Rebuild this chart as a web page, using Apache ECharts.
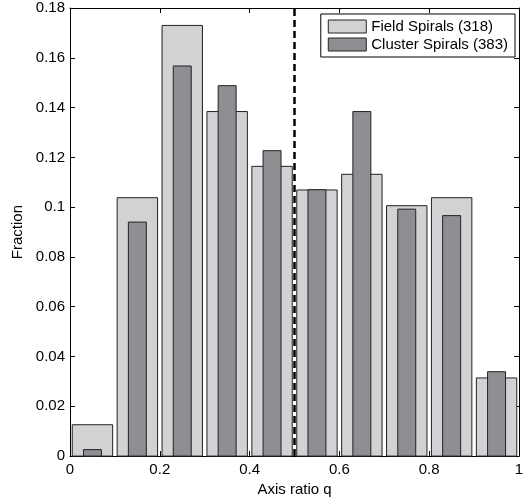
<!DOCTYPE html>
<html>
<head>
<meta charset="utf-8">
<script src="https://cdn.jsdelivr.net/npm/echarts@6/dist/echarts.min.js"></script>
<style>
html,body{margin:0;padding:0;background:#fff;}
#chart{width:527px;height:502px;}
</style>
</head>
<body>
<div id="chart"></div>
<script>
const binCenters = [0.05, 0.15, 0.25, 0.35, 0.45, 0.55, 0.65, 0.75, 0.85, 0.95];
const fieldFrac = [0.0126, 0.1038, 0.1730, 0.1384, 0.1164, 0.1069, 0.1132, 0.1006, 0.1038, 0.0314];
const clusterFrac = [0.0026, 0.0940, 0.1567, 0.1488, 0.1227, 0.1070, 0.1384, 0.0992, 0.0966, 0.0339];
const seriesNames = ['Field Spirals (318)', 'Cluster Spirals (383)'];
const cutoffLine = [[0.5, 0], [0.5, 0.18]];
const xAxisName = 'Axis ratio q';
const yAxisName = 'Fraction';

const FONT = 'Liberation Sans, Arial, Helvetica, sans-serif';

function barRenderer(widthData) {
  return function (params, api) {
    const x = api.value(0), y = api.value(1);
    const p0 = api.coord([x - widthData / 2, y]);
    const p1 = api.coord([x + widthData / 2, 0]);
    return {
      type: 'rect',
      shape: { x: p0[0], y: p0[1], width: p1[0] - p0[0], height: p1[1] - p0[1] },
      style: api.style({ stroke: '#222', lineWidth: 1 })
    };
  };
}

const chart = echarts.init(document.getElementById('chart'), null, { renderer: 'canvas' });

const axisCommon = {
  axisLine: { show: true, onZero: false, lineStyle: { color: '#000', width: 1 } },
  axisTick: { show: true, inside: true, length: 5, lineStyle: { color: '#000' } },
  splitLine: { show: false }
};

chart.setOption({
  animation: false,
  backgroundColor: '#fff',
  textStyle: { fontFamily: FONT },
  grid: { left: 70, right: 8, top: 8, bottom: 42, containLabel: false },
  legend: {
    data: seriesNames,
    orient: 'vertical',
    right: 12,
    top: 14,
    backgroundColor: '#fff',
    borderColor: '#000',
    borderWidth: 1,
    borderRadius: 0,
    padding: [5, 7, 5, 7],
    itemWidth: 38,
    itemHeight: 13,
    itemGap: 3,
    icon: 'rect',
    itemStyle: { borderColor: '#222', borderWidth: 1 },
    textStyle: { fontSize: 15, color: '#000', fontFamily: FONT }
  },
  xAxis: [
    Object.assign({
      type: 'value', min: 0, max: 1, interval: 0.2, position: 'bottom',
      name: xAxisName, nameLocation: 'middle', nameGap: 21,
      nameTextStyle: { fontSize: 15, color: '#000', fontFamily: FONT },
      axisLabel: { show: true, fontSize: 15, color: '#000', margin: 6, fontFamily: FONT }
    }, axisCommon),
    Object.assign({
      type: 'value', min: 0, max: 1, interval: 0.2, position: 'top',
      axisLabel: { show: false }
    }, axisCommon)
  ],
  yAxis: [
    Object.assign({
      type: 'value', min: 0, max: 0.18, interval: 0.02, position: 'left',
      name: yAxisName, nameLocation: 'middle', nameGap: 40,
      nameTextStyle: { fontSize: 15, color: '#000', fontFamily: FONT },
      axisLabel: { show: true, fontSize: 15, color: '#000', margin: 5, fontFamily: FONT }
    }, axisCommon),
    Object.assign({
      type: 'value', min: 0, max: 0.18, interval: 0.02, position: 'right',
      axisLabel: { show: false }
    }, axisCommon)
  ],
  series: [
    {
      name: seriesNames[0],
      type: 'custom',
      renderItem: barRenderer(0.09),
      itemStyle: { color: '#d1d2d4', borderColor: '#222', borderWidth: 1 },
      encode: { x: 0, y: 1 },
      data: binCenters.map((c, i) => [c, fieldFrac[i]]),
      z: 2
    },
    {
      name: seriesNames[1],
      type: 'custom',
      renderItem: barRenderer(0.04),
      itemStyle: { color: '#8e8f93', borderColor: '#111', borderWidth: 1 },
      encode: { x: 0, y: 1 },
      data: binCenters.map((c, i) => [c, clusterFrac[i]]),
      z: 3
    },
    {
      name: 'cutoff',
      type: 'line',
      data: cutoffLine,
      symbol: 'none',
      lineStyle: { color: '#000', width: 2.5, type: [7, 4] },
      z: 5,
      silent: true
    }
  ]
});
</script>
</body>
</html>
